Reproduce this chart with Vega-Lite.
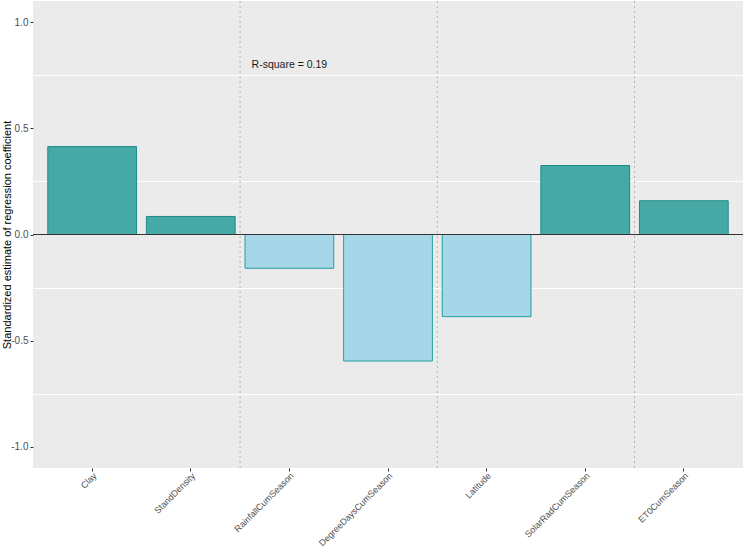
{
  "$schema": "https://vega.github.io/schema/vega-lite/v6.json",
  "width": 710,
  "height": 467,
  "autosize": "none",
  "padding": {"left": 33, "top": 1, "right": 1, "bottom": 78},
  "background": "white",
  "config": {
    "font": "Liberation Sans",
    "view": {"fill": "#ebebeb", "stroke": null},
    "axis": {
      "labelColor": "#4d4d4d",
      "labelFontSize": 10,
      "tickColor": "#333333",
      "tickSize": 3,
      "domain": false,
      "titleColor": "#000000",
      "titleFontSize": 11,
      "titleFontWeight": "normal"
    }
  },
  "datasets": {
    "coefs": [
      {"variable": "Clay", "coef": 0.414},
      {"variable": "StandDensity", "coef": 0.085},
      {"variable": "RainfallCumSeason", "coef": -0.159},
      {"variable": "DegreeDaysCumSeason", "coef": -0.596},
      {"variable": "Latitude", "coef": -0.387},
      {"variable": "SolarRadCumSeason", "coef": 0.325},
      {"variable": "ET0CumSeason", "coef": 0.159}
    ],
    "groups": [
      {"variable": "StandDensity"},
      {"variable": "DegreeDaysCumSeason"},
      {"variable": "SolarRadCumSeason"}
    ],
    "notes": [
      {"variable": "RainfallCumSeason", "value": 0.8, "label": "R-square = 0.19"}
    ]
  },
  "encoding": {
    "x": {
      "field": "variable", "type": "nominal",
      "sort": ["Clay", "StandDensity", "RainfallCumSeason", "DegreeDaysCumSeason", "Latitude", "SolarRadCumSeason", "ET0CumSeason"],
      "scale": {"paddingInner": 0, "paddingOuter": 0.1},
      "axis": {"title": null, "labelAngle": -45, "labelAlign": "right", "labelBaseline": "top", "labelFontSize": 9, "labelPadding": 0, "grid": false}
    }
  },
  "layer": [
    {
      "data": {"name": "groups"},
      "mark": {"type": "rule", "color": "#b3b3b3", "strokeDash": [2, 3], "strokeWidth": 1},
      "encoding": {
        "x": {"field": "variable", "type": "nominal", "bandPosition": 1,
              "sort": ["Clay", "StandDensity", "RainfallCumSeason", "DegreeDaysCumSeason", "Latitude", "SolarRadCumSeason", "ET0CumSeason"]}
      }
    },
    {
      "data": {"name": "coefs"},
      "mark": {"type": "bar", "width": {"band": 0.9}, "strokeWidth": 1},
      "encoding": {
        "y": {
          "field": "coef", "type": "quantitative",
          "scale": {"domain": [-1.1, 1.1], "nice": false, "zero": false},
          "axis": {"title": "Standardized estimate of regression coefficient", "values": [-1, -0.5, 0, 0.5, 1],
                   "labelExpr": "replace(format(datum.value, '.1f'), '\u2212', '-')", "grid": false,
                   "titleX": -26, "titleBaseline": "middle", "titleAlign": "center"}
        },
        "y2": {"datum": 0},
        "fill": {"condition": {"test": "datum.coef > 0", "value": "#47a9a5"}, "value": "#a6d7e9"},
        "stroke": {"condition": {"test": "datum.coef > 0", "value": "#1b8c87"}, "value": "#23a19c"}
      }
    },
    {
      "data": {"name": "coefs"},
      "mark": {"type": "rule", "color": "#333333", "strokeWidth": 1},
      "encoding": {
        "x": null,
        "y": {
          "datum": 0, "type": "quantitative",
          "axis": {"orient": "right", "values": [-0.75, -0.25, 0.25, 0.75], "grid": true, "gridColor": "#ffffff", "gridWidth": 1,
                   "labels": false, "ticks": false, "domain": false, "title": null}
        }
      }
    },
    {
      "data": {"name": "notes"},
      "mark": {"type": "text", "fontSize": 10.5, "color": "#1a1a1a", "align": "center", "baseline": "middle"},
      "encoding": {
        "y": {"field": "value", "type": "quantitative", "axis": null},
        "text": {"field": "label"}
      }
    }
  ],
  "resolve": {"axis": {"y": "independent"}}
}
